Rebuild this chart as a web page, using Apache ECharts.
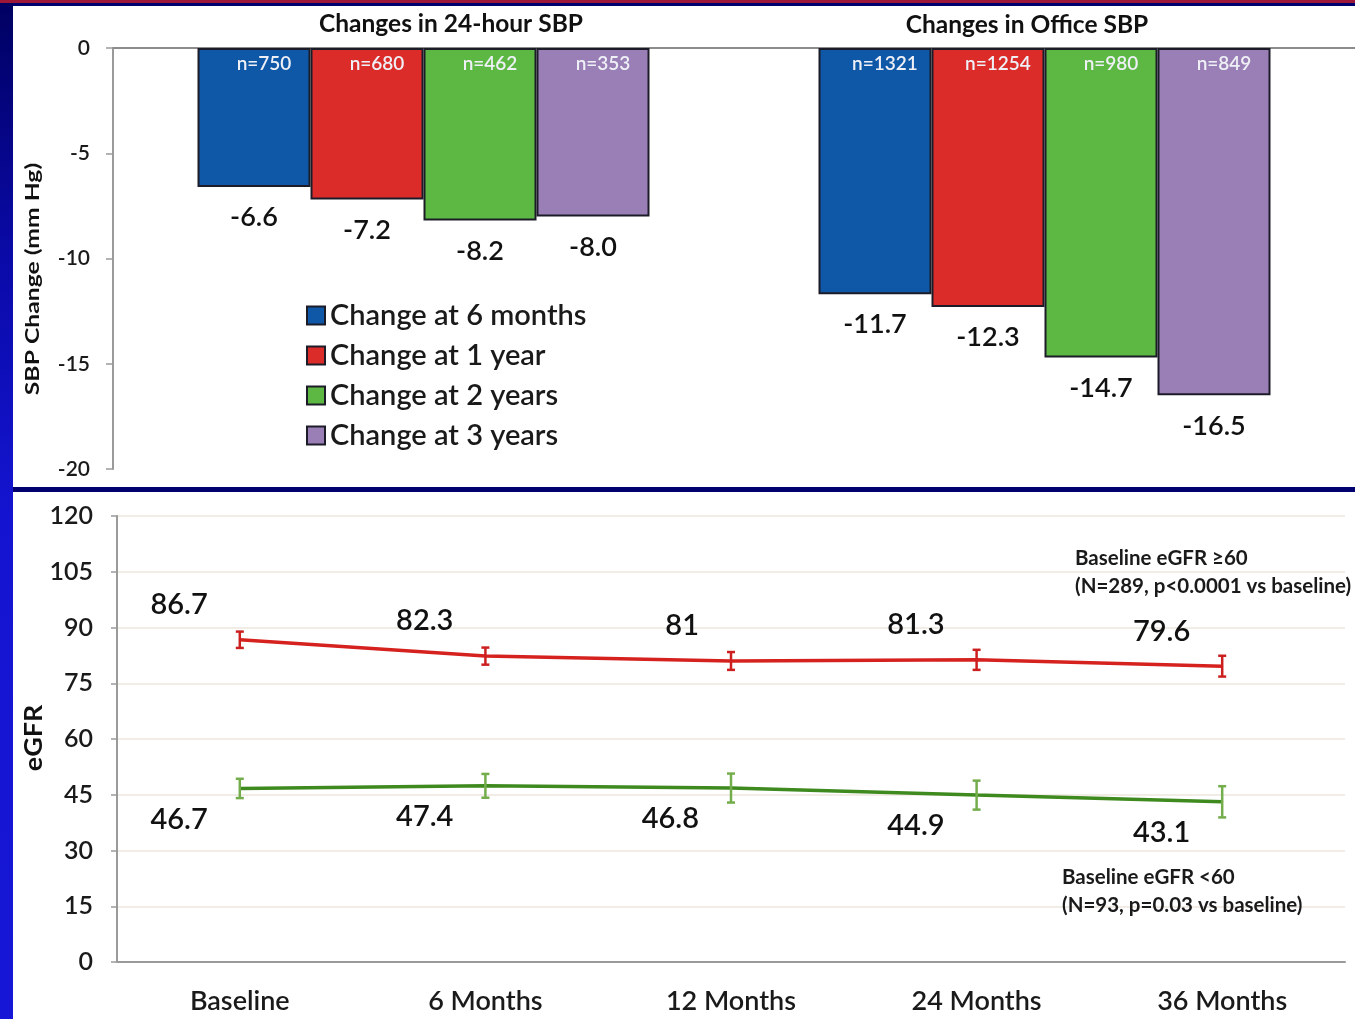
<!DOCTYPE html>
<html>
<head>
<meta charset="utf-8">
<title>SBP and eGFR changes</title>
<script src="https://cdn.jsdelivr.net/npm/echarts@6/dist/echarts.min.js"></script>
<style>
  html, body { margin: 0; padding: 0; }
  body { width: 1355px; height: 1019px; background: #00006e; position: relative; overflow: hidden; }
  .band-top { position: absolute; left: 0; top: 0; width: 1355px; height: 3px; background: #9c1738; }
  .strip-left { position: absolute; left: 0; top: 3px; width: 13px; height: 1016px;
    background: linear-gradient(to bottom, #000062 0%, #0a0aa8 25%, #1414d0 50%, #1616d6 100%); }
  .panel { position: absolute; left: 13px; width: 1342px; background: #ffffff; }
  .panel.top { top: 6px; height: 481px; }
  .panel.bottom { top: 492px; height: 527px; }
  #chart { position: absolute; left: 0; top: 0; width: 1355px; height: 1019px; }
</style>
</head>
<body>
<div class="band-top"></div>
<div class="strip-left"></div>
<div class="panel top"></div>
<div class="panel bottom"></div>
<div id="chart"></div>
<script>
// Blood pressure change by follow-up period
const bpGroups = ['24-hour SBP', 'Office SBP'];
const periods = ['Change at 6 months', 'Change at 1 year', 'Change at 2 years', 'Change at 3 years'];
const sbp24h = [-6.6, -7.2, -8.2, -8.0];
const sbpOffice = [-11.7, -12.3, -14.7, -16.5];
const n24h = [750, 680, 462, 353];
const nOffice = [1321, 1254, 980, 849];
const sbpTicks = { min: -20, max: 0, step: 5 };

// eGFR over time by baseline renal function
const visits = ['Baseline', '6 Months', '12 Months', '24 Months', '36 Months'];
const egfrHigh = [86.7, 82.3, 81, 81.3, 79.6];
const egfrHighErr = [2.2, 2.3, 2.4, 2.7, 2.8];
const egfrLow = [46.7, 47.4, 46.8, 44.9, 43.1];
const egfrLowErr = [2.6, 3.2, 3.9, 3.9, 4.2];
const egfrTicks = { min: 0, max: 120, step: 15 };

const barColors = ['#0f57a7', '#dc2c2a', '#5db843', '#9a7fb6'];
const FONT = 'Lato, "Open Sans", sans-serif';

const chart = echarts.init(document.getElementById('chart'), null, { renderer: 'canvas' });

const barGrid = { left: 113, top: 48, width: 1247, height: 421 };

const valueBars = periods.map((name, i) => ({
  name: name,
  type: 'bar',
  xAxisIndex: 0, yAxisIndex: 0,
  data: [sbp24h[i], sbpOffice[i]],
  barWidth: 113,
  barGap: '0%',
  itemStyle: { color: barColors[i], borderColor: '#1c1c28', borderWidth: 2 },
  label: {
    show: true, position: 'bottom', distance: 17,
    formatter: p => p.value.toFixed(1),
    fontFamily: FONT, fontSize: 27, fontWeight: 600, color: '#111'
  }
}));

// sample-size labels, drawn on an overlaid grid with the same scale
const countBars = periods.map((name, i) => ({
  name: 'n-' + name,
  type: 'bar',
  xAxisIndex: 1, yAxisIndex: 1,
  data: [sbp24h[i], sbpOffice[i]],
  barWidth: 113,
  barGap: '0%',
  silent: true,
  itemStyle: { color: 'rgba(0,0,0,0)' },
  label: {
    show: true, position: 'insideTop', distance: 6, offset: [10, 0],
    formatter: p => 'n=' + [n24h, nOffice][p.dataIndex][i],
    fontFamily: FONT, fontSize: 19, fontWeight: 600, color: '#eef0f6'
  }
}));

function errorSeries(values, errs, color) {
  return {
    type: 'custom',
    xAxisIndex: 2, yAxisIndex: 2,
    z: 4,
    data: values.map((v, i) => [i, v - errs[i], v + errs[i]]),
    encode: { x: 0, y: [1, 2] },
    renderItem: function (params, api) {
      const lo = api.coord([api.value(0), api.value(1)]);
      const hi = api.coord([api.value(0), api.value(2)]);
      const cap = 4;
      const st = { stroke: color, lineWidth: 2.5 };
      return {
        type: 'group',
        children: [
          { type: 'line', shape: { x1: hi[0], y1: hi[1], x2: lo[0], y2: lo[1] }, style: st },
          { type: 'line', shape: { x1: hi[0] - cap, y1: hi[1], x2: hi[0] + cap, y2: hi[1] }, style: st },
          { type: 'line', shape: { x1: lo[0] - cap, y1: lo[1], x2: lo[0] + cap, y2: lo[1] }, style: st }
        ]
      };
    }
  };
}

function lineSeries(name, values, color, dy) {
  return {
    name: name,
    type: 'line',
    xAxisIndex: 2, yAxisIndex: 2,
    data: values,
    symbol: 'circle', symbolSize: 2,
    itemStyle: { color: color },
    lineStyle: { color: color, width: 3.5 },
    label: {
      show: true, position: [-31, dy], align: 'right', verticalAlign: 'middle',
      formatter: p => String(p.value),
      fontFamily: FONT, fontSize: 29, fontWeight: 600, color: '#111'
    }
  };
}

const note = (text, x, y) => ({
  type: 'text', x: x, y: y, z: 100,
  style: { text: text, align: 'left', verticalAlign: 'middle', font: 'bold 20.5px ' + FONT, fill: '#1a1a1a' }
});

const option = {
  animation: false,
  backgroundColor: 'transparent',
  textStyle: { fontFamily: FONT },
  grid: [
    barGrid,
    Object.assign({}, barGrid),
    { left: 117, top: 516, right: 10, height: 446 }
  ],
  legend: {
    data: periods,
    orient: 'vertical',
    left: 301, top: 296,
    itemWidth: 18, itemHeight: 18,
    itemGap: 11,
    icon: 'rect',
    textStyle: { fontFamily: FONT, fontSize: 29, fontWeight: 600, lineHeight: 26, color: '#1a1a1a' }
  },
  xAxis: [
    {
      type: 'category', gridIndex: 0, data: bpGroups, position: 'top',
      axisLine: { show: true, onZero: true, lineStyle: { color: '#8c8c8c', width: 2 } },
      axisTick: { show: false }, axisLabel: { show: false }
    },
    { type: 'category', gridIndex: 1, data: bpGroups, show: false },
    {
      type: 'category', gridIndex: 2, data: visits,
      axisLine: { lineStyle: { color: '#9a9a9a', width: 2 } },
      axisTick: { show: false },
      axisLabel: { fontFamily: FONT, fontSize: 27, fontWeight: 600, color: '#1a1a1a', margin: 26 }
    }
  ],
  yAxis: [
    {
      type: 'value', gridIndex: 0, min: sbpTicks.min, max: sbpTicks.max, interval: sbpTicks.step,
      axisLine: { show: true, lineStyle: { color: '#9a9a9a', width: 2 } },
      axisTick: { show: true, length: 7, lineStyle: { color: '#9a9a9a', width: 1.5 } },
      splitLine: { show: false },
      axisLabel: { fontFamily: FONT, fontSize: 21, fontWeight: 600, color: '#1a1a1a', margin: 23 }
    },
    { type: 'value', gridIndex: 1, min: sbpTicks.min, max: sbpTicks.max, show: false, splitLine: { show: false } },
    {
      type: 'value', gridIndex: 2, min: egfrTicks.min, max: egfrTicks.max, interval: egfrTicks.step,
      axisLine: { show: true, lineStyle: { color: '#9a9a9a', width: 2 } },
      axisTick: { show: true, length: 6, lineStyle: { color: '#9a9a9a', width: 1.5 } },
      splitLine: { show: true, lineStyle: { color: '#ede7de', width: 1.5 } },
      axisLabel: { fontFamily: FONT, fontSize: 25, fontWeight: 600, color: '#1a1a1a', margin: 24 }
    }
  ],
  series: [].concat(
    valueBars,
    countBars,
    [
      lineSeries('Baseline eGFR ≥60', egfrHigh, '#d6221e', -34),
      lineSeries('Baseline eGFR <60', egfrLow, '#3e8a1e', 32),
      errorSeries(egfrHigh, egfrHighErr, '#cc2020'),
      errorSeries(egfrLow, egfrLowErr, '#74ad4c')
    ]
  ),
  graphic: [
    { type: 'text', x: 451, y: 24, z: 100, style: { text: 'Changes in 24-hour SBP', align: 'center', verticalAlign: 'middle', font: 'bold 24.5px ' + FONT, fill: '#111' } },
    { type: 'text', x: 1027, y: 25, z: 100, style: { text: 'Changes in Office SBP', align: 'center', verticalAlign: 'middle', font: 'bold 24.5px ' + FONT, fill: '#111' } },
    { type: 'text', x: 33, y: 279, z: 100, rotation: Math.PI / 2, scaleX: 1.3, style: { text: 'SBP Change (mm Hg)', align: 'center', verticalAlign: 'middle', font: 'bold 19px ' + FONT, fill: '#111' } },
    { type: 'text', x: 34, y: 738, z: 100, rotation: Math.PI / 2, scaleX: 1.12, style: { text: 'eGFR', align: 'center', verticalAlign: 'middle', font: 'bold 24px ' + FONT, fill: '#111' } },
    note('Baseline eGFR ≥60', 1075, 558),
    note('(N=289, p<0.0001 vs baseline)', 1075, 586),
    note('Baseline eGFR <60', 1062, 877),
    note('(N=93, p=0.03 vs baseline)', 1062, 905)
  ]
};

chart.setOption(option);
</script>
</body>
</html>
